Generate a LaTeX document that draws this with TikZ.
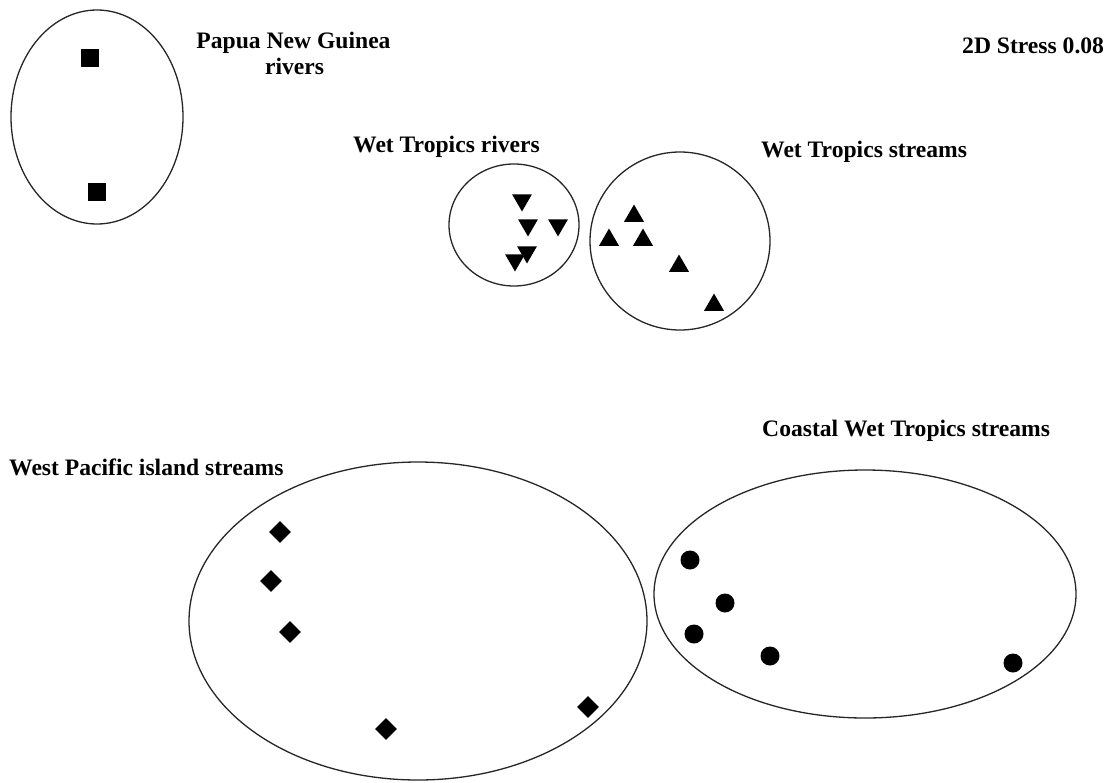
\documentclass[tikz,border=0pt]{standalone}
\usepackage{fontspec}
\setmainfont{Liberation Serif}
\usetikzlibrary{shapes.geometric}
\begin{document}
\begin{tikzpicture}[x=1pt,y=-1pt,
  grp/.style={draw=black!85,line width=1.3pt},
  lbl/.style={inner sep=0pt,font=\fontsize{23.6}{26}\selectfont\bfseries,text=black},
  sq/.style={fill=black,inner sep=0pt,minimum size=18pt},
  uptri/.style={regular polygon,regular polygon sides=3,fill=black,inner sep=0pt,minimum size=23pt},
  dntri/.style={regular polygon,regular polygon sides=3,shape border rotate=180,fill=black,inner sep=0pt,minimum size=23pt},
  dia/.style={diamond,fill=black,inner sep=0pt,minimum width=22pt,minimum height=22pt},
  dot/.style={circle,fill=black,inner sep=0pt,minimum size=19pt}]
\useasboundingbox (0,0) rectangle (1107,782);
% group outlines
\draw[grp] (97,117) ellipse [x radius=86,y radius=107];
\draw[grp] (514,225) ellipse [x radius=65,y radius=61];
\draw[grp] (680,241) ellipse [x radius=90,y radius=89];
\draw[grp] (418,621) ellipse [x radius=229,y radius=159];
\draw[grp] (865,594) ellipse [x radius=211,y radius=124];
% labels
\node[lbl,anchor=base] (png1) at (293.5,48) {Papua New Guinea};
\node[lbl,anchor=base] (png2) at (294.5,74) {rivers};
\node[lbl,anchor=base west] (stress) at (962,53) {2D Stress 0.08};
\node[lbl,anchor=base west] (wtr) at (353,152) {Wet Tropics rivers};
\node[lbl,anchor=base west] (wts) at (761,157) {Wet Tropics streams};
\node[lbl,anchor=base west] (ctw) at (762,436) {Coastal Wet Tropics streams};
\node[lbl,anchor=base west] (wpi) at (9,475) {West Pacific island streams};
% Papua New Guinea rivers
\node[sq] (s1) at (90,58) {};
\node[sq] (s2) at (97,192) {};
% Wet Tropics rivers
\node[dntri] (d1) at (522,200) {};
\node[dntri] (d2) at (528,225) {};
\node[dntri] (d3) at (558,225) {};
\node[dntri] (d4) at (527,252) {};
\node[dntri] (d5) at (515,260) {};
% Wet Tropics streams
\node[uptri] (u1) at (634,216) {};
\node[uptri] (u2) at (609,240) {};
\node[uptri] (u3) at (643,240) {};
\node[uptri] (u4) at (679,266) {};
\node[uptri] (u5) at (714,305) {};
% West Pacific island streams
\node[dia] (w1) at (280,532) {};
\node[dia] (w2) at (271,581) {};
\node[dia] (w3) at (290,632) {};
\node[dia] (w4) at (386,729) {};
\node[dia] (w5) at (588,707) {};
% Coastal Wet Tropics streams
\node[dot] (c1) at (690,560) {};
\node[dot] (c2) at (725,603) {};
\node[dot] (c3) at (694,634) {};
\node[dot] (c4) at (770,656) {};
\node[dot] (c5) at (1013,663) {};
\end{tikzpicture}
\end{document}
